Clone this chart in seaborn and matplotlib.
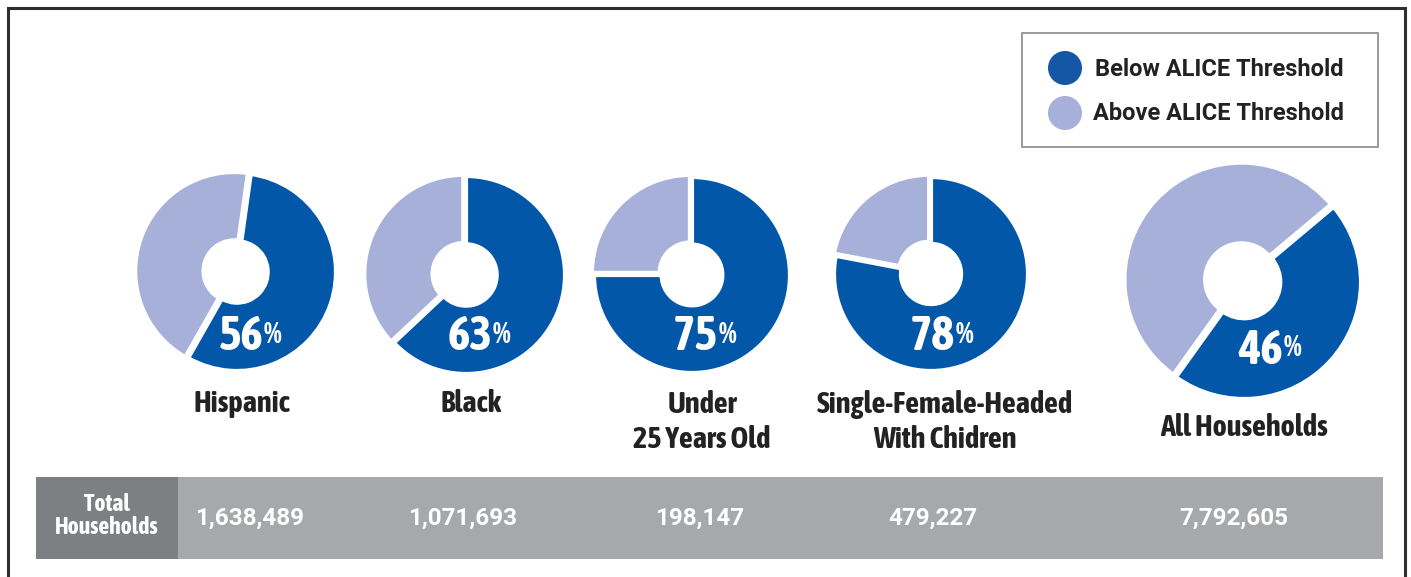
import matplotlib
matplotlib.use("Agg")
import matplotlib.pyplot as plt
import matplotlib.font_manager as fm
from matplotlib.patches import Rectangle, Circle
import seaborn as sns

# ---------------- data ----------------
categories = ["Hispanic", "Black", "Under\n25 Years Old",
              "Single-Female-Headed\nWith Chidren", "All Households"]
below_pct = [56, 63, 75, 78, 46]
total_households = [1638489, 1071693, 198147, 479227, 7792605]
legend_labels = ["Below ALICE Threshold", "Above ALICE Threshold"]
table_header = "Total\nHouseholds"

# ---------------- style / layout ----------------
sns.set_theme(style="white")
BLUE = "#0357a8"
LIGHT = "#a7b0d9"
LEG_BLUE = "#1557a5"
GRAY = "#a7a8ab"
DARK_GRAY = "#7e7f83"
FRAME = "#2e2e2e"
TEXT = "#222222"

W, H = 1411, 577
centers_x = [237, 466, 692, 931, 1244]
centers_y = [272, 275, 275, 274, 282]
radii = [99, 99, 98, 97, 117]
start_angles = [82, 90, 90, 90, 40]
hole_frac = 0.31
pct_dx = [26, 26, 26, 24, 39]
pct_dy = [65, 62, 62, 63, 68]
label_y = [404, 404, 422, 422, 428]
label_dx = [5, 5, 10, 14, 0]
table_x = [250, 463, 700, 933, 1234]


def condensed_font():
    best, best_score = None, -1e9
    for f in fm.fontManager.ttflist:
        st = f.stretch
        stv = fm.stretch_dict.get(st, 500) if isinstance(st, str) else st
        w = f.weight
        wv = fm.weight_dict.get(w, 400) if isinstance(w, str) else w
        if f.style != "normal":
            continue
        name = f.name.lower()
        narrow = stv < 500 or "narrow" in name or "condensed" in name
        if not narrow:
            continue
        eff = stv if stv < 500 else 300
        score = (500 - eff) - abs(wv - 750) * 0.5
        if "narrow" in name or "condensed" in name:
            score += 50
        if score > best_score:
            best, best_score = f, score
    return best


cf = condensed_font()
if cf is not None:
    COND = fm.FontProperties(fname=cf.fname)
else:
    COND = fm.FontProperties(family="Roboto", weight="bold")
ROB = fm.FontProperties(family="Roboto", weight="bold")

fig = plt.figure(figsize=(W / 100, H / 100), dpi=100)
bg = fig.add_axes([0, 0, 1, 1])
bg.set_xlim(0, W)
bg.set_ylim(H, 0)
bg.axis("off")

# outer frame (open at bottom)
bg.plot([8, 8, 1405, 1405], [H, 8, 8, H], color=FRAME, lw=2.2,
        solid_joinstyle="miter")

# legend box
bg.add_patch(Rectangle((1022, 33), 356, 114, fill=False, ec="#9a9a9a", lw=1.4))
for i, (lab, col) in enumerate(zip(legend_labels, [LEG_BLUE, LIGHT])):
    yy = 68 + 45 * i
    bg.add_patch(Circle((1065, yy), 17, color=col, lw=0))
    bg.text(1095 - 2 * i, yy + 1, lab, fontproperties=ROB, fontsize=17,
            color=TEXT, ha="left", va="center")

# donuts
for i, v in enumerate(below_pct):
    cx, cy, R = centers_x[i], centers_y[i], radii[i]
    pad = 1.15
    size = 2 * R * pad
    ax = fig.add_axes([(cx - R * pad) / W, 1 - (cy + R * pad) / H,
                       size / W, size / H])
    ax.pie([v, 100 - v], colors=[BLUE, LIGHT], startangle=start_angles[i],
           counterclock=False, explode=[0, 0.03], radius=1,
           wedgeprops=dict(width=1 - hole_frac, edgecolor="white",
                           linewidth=3))
    ax.set_xlim(-pad, pad)
    ax.set_ylim(-pad, pad)
    ax.set_aspect("equal")
    ax.axis("off")

# overlay for text on top of donuts
ov = fig.add_axes([0, 0, 1, 1])
ov.set_xlim(0, W)
ov.set_ylim(H, 0)
ov.axis("off")
ov.patch.set_alpha(0)

num_texts, pct_texts, cat_texts = [], [], []
for i, v in enumerate(below_pct):
    cx, cy = centers_x[i], centers_y[i]
    x0, y0 = cx + pct_dx[i], cy + pct_dy[i]
    num_texts.append(ov.text(x0, y0, f"{v}", fontproperties=COND, fontsize=30,
                             color="white", ha="right", va="center"))
    pct_texts.append(ov.text(x0 + 1, y0 - 17, "%", fontproperties=COND,
                             fontsize=14, color="white", ha="left", va="top"))
    cat_texts.append(bg.text(cx + label_dx[i], label_y[i], categories[i],
                             fontproperties=COND, fontsize=22, color=TEXT,
                             ha="center", va="center", linespacing=1.3))

# fit condensed-font sizes to reference widths
fig.canvas.draw()
r = fig.canvas.get_renderer()
w_lab = cat_texts[3].get_window_extent(r).width
s_lab = min(24, 22 * 256 / w_lab)
for t in cat_texts:
    t.set_fontsize(s_lab)
w_num = num_texts[0].get_window_extent(r).width
s_num = min(36, 30 * 45 / w_num)
for t in num_texts:
    t.set_fontsize(s_num)
for t in pct_texts:
    t.set_fontsize(s_num * 0.6)

# table band
bg.add_patch(Rectangle((178, 477), 1205, 82, color=GRAY, lw=0))
bg.add_patch(Rectangle((36, 477), 142, 82, color=DARK_GRAY, lw=0))
hdr = bg.text(107, 516, table_header, fontproperties=COND, fontsize=16,
              color="white", ha="center", va="center", linespacing=1.0)
fig.canvas.draw()
w_h = hdr.get_window_extent(fig.canvas.get_renderer()).width
hdr.set_fontsize(min(17, 16 * 122 / w_h))
for x, n in zip(table_x, total_households):
    bg.text(x, 518, f"{n:,}", fontproperties=ROB, fontsize=17.5,
            color="white", ha="center", va="center")

fig.savefig("out.png", dpi=100)
